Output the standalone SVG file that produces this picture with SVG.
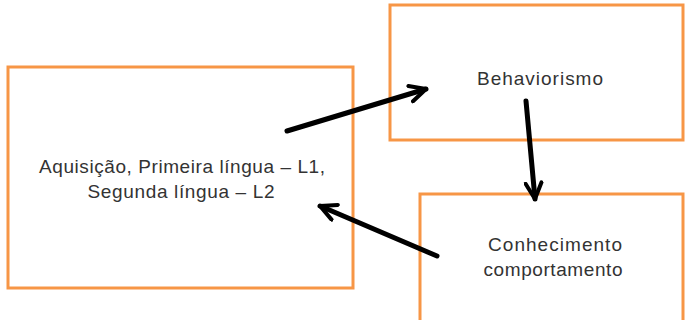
<svg xmlns="http://www.w3.org/2000/svg" width="685" height="320" viewBox="0 0 685 320">
<defs>
<style>
.box{fill:#fff;stroke:#F79646;stroke-width:3}
.t{font-family:"Liberation Sans",Arial,sans-serif;font-size:19px;fill:#333;text-anchor:middle}
.c{stroke:#000;stroke-width:5;fill:none;stroke-linecap:round}
</style>
<marker id="ah" viewBox="0 0 10 10" refX="9" refY="5" markerWidth="4" markerHeight="4" orient="auto" markerUnits="strokeWidth">
<path d="M1,1 L9,5 L1,9" fill="none" stroke="#000" stroke-width="2" stroke-linecap="round" stroke-linejoin="round"/>
</marker>
</defs>
<rect width="685" height="320" fill="#fff"/>
<g id="n1">
<rect class="box" x="8" y="67" width="345" height="221"/>
<text class="t" x="182" y="173" textLength="286" lengthAdjust="spacing">Aquisição, Primeira língua – L1,</text>
<text class="t" x="181" y="198" textLength="187" lengthAdjust="spacing">Segunda língua – L2</text>
</g>
<g id="n2">
<rect class="box" x="390" y="5" width="293" height="135"/>
<text class="t" x="540" y="85" textLength="126" lengthAdjust="spacing">Behaviorismo</text>
</g>
<g id="n3">
<rect class="box" x="420" y="194" width="263" height="130"/>
<text class="t" x="555" y="251" textLength="134" lengthAdjust="spacing">Conhecimento</text>
<text class="t" x="553" y="276" textLength="139" lengthAdjust="spacing">comportamento</text>
</g>
<g id="connectors">
<line class="c" x1="287" y1="131" x2="426" y2="89" marker-end="url(#ah)"/>
<line class="c" x1="526" y1="101" x2="535" y2="199" marker-end="url(#ah)"/>
<line class="c" x1="437" y1="256" x2="320" y2="206" marker-end="url(#ah)"/>
</g>
</svg>
